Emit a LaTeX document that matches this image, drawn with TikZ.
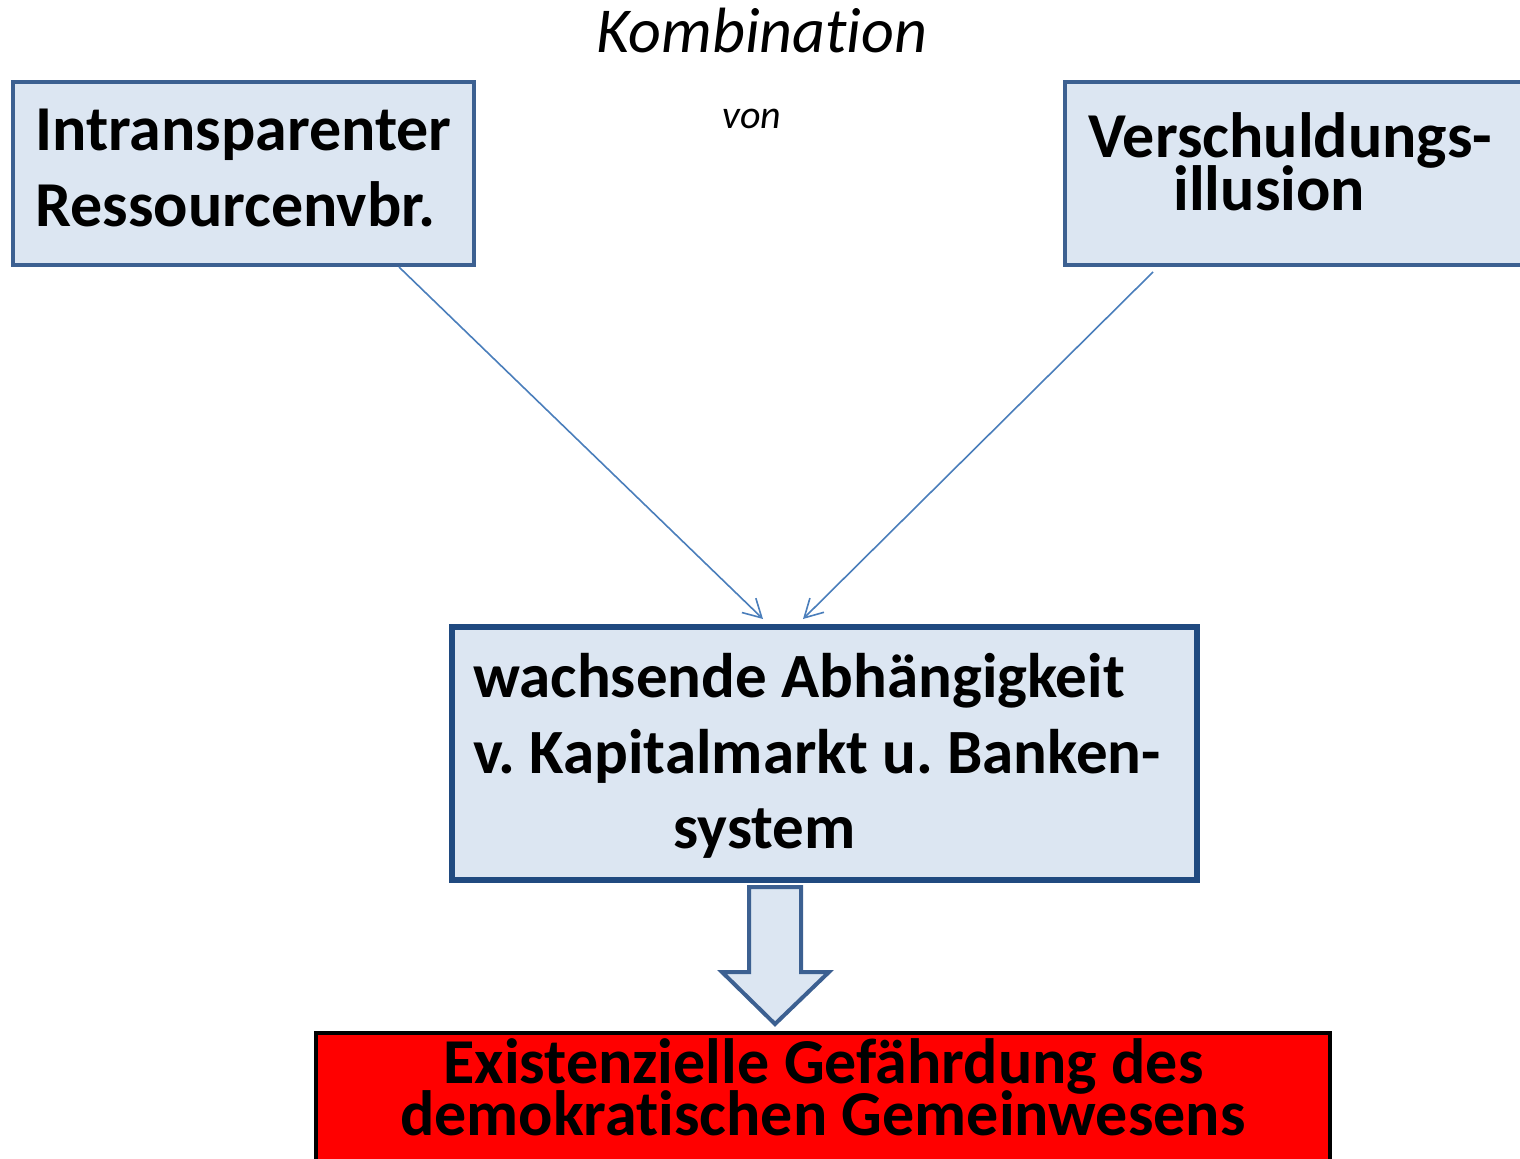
\documentclass[tikz,border=0pt]{standalone}
\usepackage{fontspec}
\setmainfont{Carlito}[Ligatures=NoCommon]
\usetikzlibrary{arrows.meta,calc}
\definecolor{boxfill}{RGB}{220,230,242}
\definecolor{boxline}{RGB}{60,96,145}
\definecolor{midline}{RGB}{32,74,128}
\definecolor{linkblue}{RGB}{74,126,187}
\tikzset{
  boxnode/.style={draw=boxline, line width=2pt, fill=boxfill, rectangle, inner sep=0pt},
  boxtext/.style={font=\fontsize{32}{36}\selectfont\bfseries, anchor=base west, inner sep=0pt},
  midtext/.style={font=\fontsize{31.5}{36}\selectfont\bfseries, anchor=base west, inner sep=0pt},
  alarmtext/.style={font=\fontsize{32}{36}\selectfont\bfseries, anchor=base, inner sep=0pt},
  link/.style={draw=linkblue, line width=0.8pt, -{Straight Barb[length=9pt,width=10pt]}}
}
\begin{document}
\frenchspacing
\begin{tikzpicture}[x=0.5pt,y=-0.5pt]
\useasboundingbox (0,0) rectangle (1520,1158);
% heading
\node[font=\fontsize{32}{36}\selectfont\itshape, anchor=base, inner sep=0pt] (komb) at (762,52) {Kombination};
\node[font=\fontsize{20}{24}\selectfont\itshape, anchor=base, inner sep=0pt] (von) at (752,128) {von};

% the two causes
\node[boxnode, minimum width=230.5pt, minimum height=91.5pt] (intrans) at (243.5,173.5) {};
\node[boxtext] (intrans1) at (35,150) {Intransparenter};
\node[boxtext] (intrans2) at (35,226) {Ressourcenvbr.};

\node[boxnode, minimum width=237.5pt, minimum height=91.5pt] (versch) at (1302.5,173.5) {};
\node[boxtext] (versch1) at (1088,157) {Verschuldungs-};
\node[boxtext] (versch2) at (1173,210) {illusion};

% the consequence
\node[boxnode, draw=midline, line width=3pt, minimum width=372.5pt, minimum height=126.5pt] (abh) at (824.5,753.5) {};
\node[midtext] (abh1) at (473,697) {wachsende Abhängigkeit};
\node[midtext] (abh2) at (473,773) {v. Kapitalmarkt u. Banken-};
\node[midtext] (abh3) at (673,848) {system};

% links
\draw[link] ($(intrans.south)+(155.5,0)$) -- ($(abh.north)+(-61.5,-5)$);
\draw[link] ($(versch.south)+(-149.5,5)$) -- ($(abh.north)+(-21.5,-5)$);

% block arrow
\draw[boxline, line width=2pt, fill=boxfill, line join=miter]
  (749,887) -- (801,887) -- (801,972) -- (829,972) -- (775,1024)
  -- (722,972) -- (749,972) -- cycle;

% danger box
\node[draw=black, line width=2pt, fill=red, rectangle, minimum width=507pt, minimum height=83.5pt] (gefahr) at (823,1116.5) {};
\node[alarmtext] (gefahr1) at (823.5,1083) {Existenzielle Gefährdung des};
\node[alarmtext] (gefahr2) at (823,1135) {demokratischen Gemeinwesens};
\end{tikzpicture}
\end{document}
